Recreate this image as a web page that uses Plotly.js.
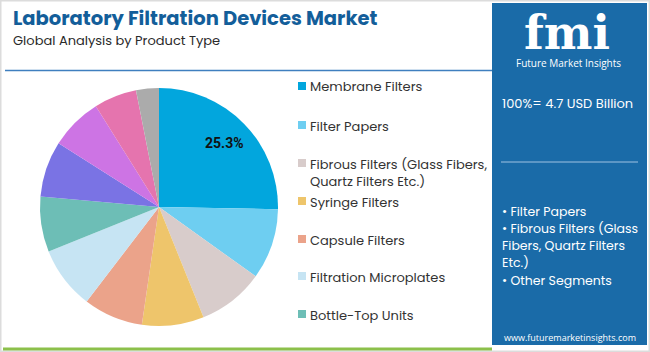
<!DOCTYPE html>
<html>
<head>
<meta charset="utf-8">
<script src="https://cdn.plot.ly/plotly-3.0.1.min.js"></script>
<style>
html,body{margin:0;padding:0;background:#fff;}
#chart{width:650px;height:352px;}
</style>
</head>
<body>
<div id="chart"></div>
<script>
// ---- data ----
const categories = [
  "Membrane Filters",
  "Filter Papers",
  "Fibrous Filters (Glass Fibers,<br>Quartz Filters Etc.)",
  "Syringe Filters",
  "Capsule Filters",
  "Filtration Microplates",
  "Bottle-Top Units",
  "Other Segment A",
  "Other Segment B",
  "Other Segment C",
  "Other Segment D"
];
const shares = [25.3, 9.6, 9.0, 8.4, 8.1, 8.5, 7.5, 7.6, 7.1, 5.8, 3.1];
const colors = ["#02A6DD", "#6ECEF1", "#D8CCCB", "#EEC56B", "#EBA38A", "#C6E4F3",
                "#6DBEB6", "#7A73E4", "#CD74E4", "#E574AE", "#ABABAB"];
const legendCount = 7;
const labelledSlice = 0;
const titleText = "Laboratory Filtration Devices Market";
const subtitleText = "Global Analysis by Product Type";
const totalText = "100%= 4.7 USD Billion";
const bulletLines = ["• Filter Papers", "• Fibrous Filters (Glass", "Fibers, Quartz Filters", "Etc.)", "• Other Segments"];
const siteText = "www.futuremarketinsights.com";

// ---- layout helpers ----
const W = 650, H = 352;
const px = x => x / W;
const py = y => 1 - y / H;

const pieCx = 159, pieCy = 207, pieR = 119;
const FONT = "Poppins, 'Open Sans', Arial, sans-serif";

const trace = {
  type: "pie",
  values: shares,
  labels: categories,
  marker: {colors: colors, line: {width: 0}},
  sort: false,
  direction: "clockwise",
  rotation: 0,
  textinfo: "none",
  hoverinfo: "label+percent",
  showlegend: false,
  domain: {x: [px(pieCx - pieR), px(pieCx + pieR)], y: [py(pieCy + pieR), py(pieCy - pieR)]}
};

const shapes = [];
const annotations = [];
const ann = o => annotations.push(Object.assign({xref: "paper", yref: "paper", showarrow: false, borderpad: 0}, o));

// slice label, placed on the slice's mid-angle (derived from the data)
{
  const total = shares.reduce((a, b) => a + b, 0);
  let before = 0;
  for (let i = 0; i < labelledSlice; i++) before += shares[i];
  const mid = (before + shares[labelledSlice] / 2) / total * 2 * Math.PI;
  const rr = 0.77 * pieR;
  const lx = pieCx + rr * Math.sin(mid), ly = pieCy - rr * Math.cos(mid);
  ann({x: px(lx), y: py(ly), xanchor: "center", yanchor: "middle",
    text: "<b>" + (shares[labelledSlice] / total * 100).toFixed(1) + "%</b>",
    font: {family: "Roboto, Arial, sans-serif", size: 14, color: "#111"}});
}

// outer light border
shapes.push({type: "rect", xref: "paper", yref: "paper", x0: px(0.75), x1: px(649.25), y0: py(351.25), y1: py(0.75),
  line: {color: "#DCDCDC", width: 1.5}, fillcolor: "rgba(0,0,0,0)", layer: "below"});
// blue rule under subtitle
shapes.push({type: "line", xref: "paper", yref: "paper", x0: px(5), x1: px(492), y0: py(70.5), y1: py(70.5),
  line: {color: "#3F7FBF", width: 1.5}});
// green bottom rule
shapes.push({type: "line", xref: "paper", yref: "paper", x0: px(3), x1: px(492), y0: py(349), y1: py(349),
  line: {color: "#8CC04B", width: 3}});
// right panel
shapes.push({type: "rect", xref: "paper", yref: "paper", x0: px(492), x1: px(647), y0: py(345), y1: py(3),
  line: {width: 0}, fillcolor: "#1A6BA8", layer: "below"});
// panel separator
shapes.push({type: "line", xref: "paper", yref: "paper", x0: px(501), x1: px(638), y0: py(162), y1: py(162),
  line: {color: "#9FC3E2", width: 1}});

// title & subtitle
ann({x: px(12), y: py(19), xanchor: "left", yanchor: "middle",
  text: "<b>" + titleText + "</b>", font: {family: FONT, size: 19.5, color: "#135E9A"}});
ann({x: px(12), y: py(41), xanchor: "left", yanchor: "middle",
  text: subtitleText, font: {family: FONT, size: 13, color: "#2a2a2a"}});

// legend (first entries only)
const legendY = [86, 125, 163, 201, 239, 276, 314];
for (let i = 0; i < legendCount; i++) {
  const y = legendY[i];
  shapes.push({type: "rect", xref: "paper", yref: "paper", x0: px(298), x1: px(306), y0: py(y + 4), y1: py(y - 4),
    line: {width: 0}, fillcolor: colors[i]});
  ann({x: px(309), y: py(y - 9.5), xanchor: "left", yanchor: "top", align: "left",
    text: categories[i], font: {family: FONT, size: 13, color: "#333"}});
}

// panel: logo
ann({x: px(567), y: py(33), xanchor: "center", yanchor: "middle",
  text: "<b>fmi</b>", font: {family: "'DejaVu Serif', serif", size: 46, color: "#FFFFFF"}});
ann({x: px(568), y: py(63), xanchor: "center", yanchor: "middle",
  text: "Future Market Insights", font: {family: "'Open Sans', Arial, sans-serif", size: 10, color: "#FFFFFF"}});
// panel: total
ann({x: px(501), y: py(103), xanchor: "left", yanchor: "middle",
  text: totalText, font: {family: FONT, size: 13, color: "#FFFFFF"}});
// panel: bullets
const bulletY = [211, 228, 245, 262, 280];
bulletLines.forEach((t, i) => {
  ann({x: px(501), y: py(bulletY[i]), xanchor: "left", yanchor: "middle",
    text: t, font: {family: FONT, size: 12.5, color: "#FFFFFF"}});
});
// panel: website
ann({x: px(570), y: py(337), xanchor: "center", yanchor: "middle",
  text: siteText, font: {family: "'Open Sans', Arial, sans-serif", size: 9, color: "#FFFFFF"}});

const layout = {
  width: W, height: H,
  margin: {l: 0, r: 0, t: 0, b: 0, pad: 0},
  paper_bgcolor: "#FFFFFF",
  plot_bgcolor: "#FFFFFF",
  showlegend: false,
  shapes: shapes,
  annotations: annotations
};

Plotly.newPlot("chart", [trace], layout, {displayModeBar: false, staticPlot: true});
</script>
</body>
</html>
